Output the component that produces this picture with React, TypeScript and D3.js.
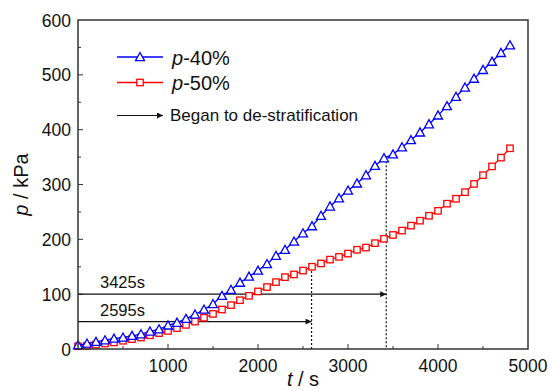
import React from "react";
import * as d3 from "d3";

const times = d3.range(0, 4801, 100);
const p40 = [7,10,13,16,19,21,24,27,32,36,43,48,55,63,72,82,97,108,121,132,143,155,170,181,196,211,224,243,260,275,289,302,317,334,348,355,368,381,395,410,426,443,460,477,493,509,524,540,554];
const p50 = [5,6,8,10,12,15,18,21,25,29,33,38,44,50,57,64,72,80,89,97,105,113,122,131,136,143,150,156,163,168,174,181,185,193,201,208,216,225,234,243,252,265,274,286,301,317,333,349,366];
const xTicks = [1000, 2000, 3000, 4000, 5000];
const yTicks = [0, 100, 200, 300, 400, 500, 600];
const events = [
  { t: 3425, level: 100, label: "3425s", series: "p40" },
  { t: 2595, level: 50, label: "2595s", series: "p50" },
];

const W = 550, H = 391;
const m = { l: 78, r: 22, t: 20, b: 42 };
const x = d3.scaleLinear().domain([0, 5000]).range([m.l, W - m.r]);
const y = d3.scaleLinear().domain([0, 600]).range([H - m.b, m.t]);

function interp(arr: number[], t: number) {
  const i = Math.floor(t / 100);
  const f = (t - i * 100) / 100;
  return arr[i] + (arr[Math.min(i + 1, arr.length - 1)] - arr[i]) * f;
}

function Tri({ cx, cy }: { cx: number; cy: number }) {
  const s = 4.5;
  return <path d={`M${cx},${cy - s}L${cx + s},${cy + s * 0.8}L${cx - s},${cy + s * 0.8}Z`} fill="white" stroke="#0000FF" strokeWidth={1.3} />;
}
function Sq({ cx, cy }: { cx: number; cy: number }) {
  const s = 3.2;
  return <rect x={cx - s} y={cy - s} width={2 * s} height={2 * s} fill="white" stroke="#FF0000" strokeWidth={1.3} />;
}

export default function App() {
  const line = d3.line<number>().x((_, i) => x(times[i])).y((d) => y(d));
  const font = "Arial, 'Liberation Sans', sans-serif";
  const x0 = x(0), y0 = y(0);
  return (
    <svg width={W} height={H} style={{ position: "absolute", left: 0, top: 0, background: "white" }} fontFamily={font}>
      <defs>
        <marker id="ah" viewBox="0 0 10 10" refX="10" refY="5" markerWidth="9" markerHeight="6" markerUnits="userSpaceOnUse" orient="auto">
          <path d="M0,0L10,5L0,10Z" fill="#111" />
        </marker>
      </defs>
      {/* ticks */}
      {d3.range(500, 5000, 500).map((t) => (
        <line key={"xt" + t} x1={x(t)} x2={x(t)} y1={y0} y2={y0 - (t % 1000 === 0 ? 5 : 3)} stroke="#333" strokeWidth={1} />
      ))}
      {d3.range(50, 600, 50).map((v) => (
        <line key={"yt" + v} x1={x0} x2={x0 + (v % 100 === 0 ? 5 : 3)} y1={y(v)} y2={y(v)} stroke="#333" strokeWidth={1} />
      ))}
      {xTicks.map((t) => (
        <text key={"xl" + t} x={x(t)} y={y0 + 23} fontSize={17.5} textAnchor="middle" fill="#111">{t}</text>
      ))}
      {yTicks.map((v) => (
        <text key={"yl" + v} x={x0 - 7} y={y(v) + 6.5} fontSize={17.5} textAnchor="end" fill="#111">{v}</text>
      ))}
      {/* event annotations */}
      {events.map((e) => {
        const arr = e.series === "p40" ? p40 : p50;
        return (
          <g key={e.label}>
            <line x1={x0} x2={x(e.t)} y1={y(e.level)} y2={y(e.level)} stroke="#111" strokeWidth={1.2} markerEnd="url(#ah)" />
            <line x1={x(e.t)} x2={x(e.t)} y1={y(interp(arr, e.t))} y2={y0} stroke="#111" strokeWidth={1.2} strokeDasharray="2,2" />
            <text x={x0 + 22} y={y(e.level) - 6} fontSize={16.5} fill="#111">{e.label}</text>
          </g>
        );
      })}
      {/* series */}
      <path d={line(p50) || ""} fill="none" stroke="#FF0000" strokeWidth={1.3} />
      {p50.map((v, i) => <Sq key={"s" + i} cx={x(times[i])} cy={y(v)} />)}
      <path d={line(p40) || ""} fill="none" stroke="#0000FF" strokeWidth={1.3} />
      {p40.map((v, i) => <Tri key={"t" + i} cx={x(times[i])} cy={y(v)} />)}
      {/* frame */}
      <rect x={x0} y={m.t} width={W - m.r - m.l} height={y0 - m.t} fill="none" stroke="#333" strokeWidth={1.5} />
      {/* legend */}
      <line x1={117} x2={163} y1={57} y2={57} stroke="#0000FF" strokeWidth={1.3} />
      <Tri cx={140} cy={57} />
      <text x={172} y={65} fontSize={20} fill="#111"><tspan fontStyle="italic">p</tspan>-40%</text>
      <line x1={117} x2={163} y1={82.5} y2={82.5} stroke="#FF0000" strokeWidth={1.3} />
      <Sq cx={140} cy={82.5} />
      <text x={172} y={90} fontSize={20} fill="#111"><tspan fontStyle="italic">p</tspan>-50%</text>
      <line x1={117} x2={163} y1={115.5} y2={115.5} stroke="#111" strokeWidth={1.2} markerEnd="url(#ah)" />
      <text x={170} y={121} fontSize={17} fill="#111">Began to de-stratification</text>
      {/* axis titles */}
      <text transform={`translate(28,${(m.t + y0) / 2}) rotate(-90)`} fontSize={20} textAnchor="middle" fill="#111"><tspan fontStyle="italic">p</tspan> / kPa</text>
      <text x={(x0 + W - m.r) / 2} y={386} fontSize={20} textAnchor="middle" fill="#111"><tspan fontStyle="italic">t</tspan> / s</text>
    </svg>
  );
}
